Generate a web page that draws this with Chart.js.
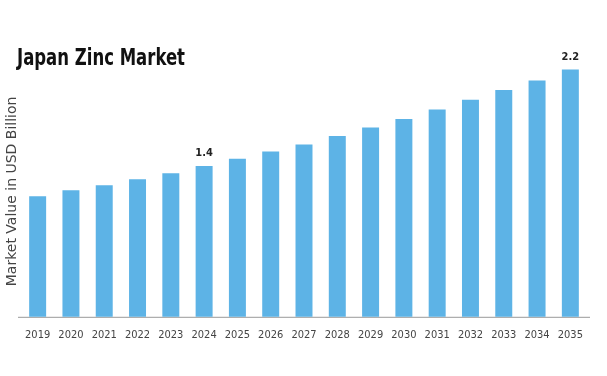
<!DOCTYPE html>
<html lang="en">
<head>
<meta charset="UTF-8">
<title>Japan Zinc Market</title>
<script src="https://cdn.jsdelivr.net/npm/chart.js"></script>
<style>
  html, body { margin: 0; padding: 0; background: #fff; }
  #wrap { width: 607px; height: 376px; position: relative; }
</style>
</head>
<body>
<div id="wrap"><canvas id="zincChart"></canvas></div>
<script>
// chart data
const years = ['2019', '2020', '2021', '2022', '2023', '2024', '2025', '2026', '2027',
               '2028', '2029', '2030', '2031', '2032', '2033', '2034', '2035'];
const marketValue = [1.15, 1.2, 1.24, 1.29, 1.34, 1.4, 1.46, 1.52, 1.58,
                     1.65, 1.72, 1.79, 1.87, 1.95, 2.03, 2.11, 2.2];
// only these years get a value printed above the bar
const labelledYears = ['2024', '2035'];
const chartTitle = 'Japan Zinc Market';
const yAxisTitle = 'Market Value in USD Billion';

const narrow = '"Liberation Sans Narrow", "DejaVu Sans Condensed", sans-serif';

// title, y title, axis line and value labels drawn by hand
const decorPlugin = {
  id: 'decor',
  beforeDatasetsDraw(chart) {
    const { ctx, chartArea } = chart;
    ctx.save();
    ctx.strokeStyle = '#999';
    ctx.lineWidth = 1;
    ctx.beginPath();
    ctx.moveTo(chartArea.left - 3, chartArea.bottom + 0.5);
    ctx.lineTo(chartArea.right + 3, chartArea.bottom + 0.5);
    ctx.stroke();
    ctx.restore();
  },
  afterDraw(chart) {
    const { ctx, chartArea } = chart;
    ctx.save();
    ctx.fillStyle = '#111';
    ctx.font = 'bold 23px ' + narrow;
    ctx.textBaseline = 'alphabetic';
    ctx.textAlign = 'left';
    // squeeze the title to the narrow width of the original
    const w = ctx.measureText(chartTitle).width;
    const sx = Math.min(1, 168 / w);
    ctx.translate(17, 65);
    ctx.scale(sx, 1);
    ctx.fillText(chartTitle, 0, 0);
    ctx.restore();

    // vertical axis title
    ctx.save();
    ctx.fillStyle = '#444';
    ctx.font = '14px "DejaVu Sans", sans-serif';
    ctx.textAlign = 'center';
    ctx.textBaseline = 'middle';
    ctx.translate(12, (chartArea.top + chartArea.bottom) / 2);
    ctx.rotate(-Math.PI / 2);
    ctx.fillText(yAxisTitle, 0, 0);
    ctx.restore();

    ctx.save();
    const meta = chart.getDatasetMeta(0);
    ctx.font = 'bold 11px ' + narrow;
    ctx.fillStyle = '#222';
    ctx.textAlign = 'center';
    ctx.textBaseline = 'bottom';
    years.forEach((y, i) => {
      if (!labelledYears.includes(y)) return;
      const bar = meta.data[i];
      ctx.fillText(String(marketValue[i]), bar.x, bar.y - 7);
    });
    ctx.restore();
  }
};

new Chart(document.getElementById('zincChart'), {
  type: 'bar',
  data: {
    labels: years,
    datasets: [{
      data: marketValue,
      backgroundColor: '#5db3e6',
      borderWidth: 0,
      barPercentage: 0.6,
      categoryPercentage: 0.85
    }]
  },
  options: {
    responsive: true,
    maintainAspectRatio: false,
    animation: false,
    layout: { padding: { top: 66, right: 20, bottom: 30, left: 21 } },
    plugins: {
      legend: { display: false },
      tooltip: { enabled: false }
    },
    scales: {
      x: {
        grid: { display: false },
        border: { display: false },
        ticks: {
          padding: 4,
          color: '#444',
          font: { family: narrow, size: 11 }
        }
      },
      y: {
        display: false,
        min: 0.15,
        max: 2.23
      }
    }
  },
  plugins: [decorPlugin]
});
</script>
</body>
</html>
